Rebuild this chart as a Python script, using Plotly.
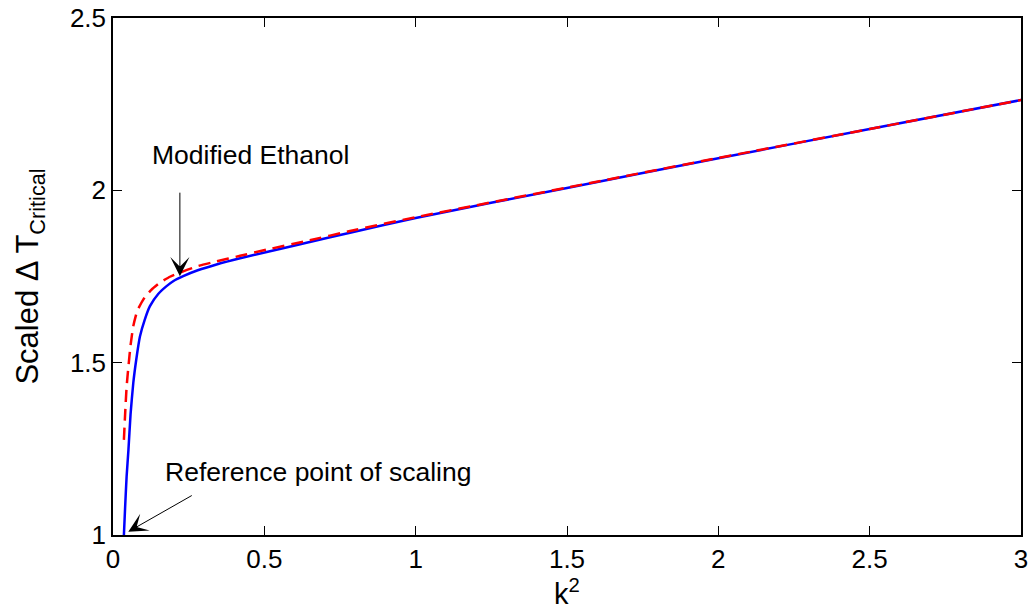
import plotly.graph_objects as go

# Solid blue curve (reference fluid)
k2_blue = [0.036, 0.040, 0.045, 0.051, 0.058, 0.067, 0.077, 0.089, 0.105, 0.122,
           0.150, 0.177, 0.200, 0.232, 0.280, 0.342, 0.420, 0.508, 0.650, 0.783,
           1.0, 1.5, 2.0, 2.5, 3.0]
dT_blue = [1.000, 1.080, 1.170, 1.247, 1.350, 1.441, 1.510, 1.576, 1.625, 1.664,
           1.700, 1.722, 1.737, 1.751, 1.768, 1.785, 1.803, 1.821, 1.850, 1.877,
           1.920, 2.007, 2.093, 2.178, 2.262]

# Dashed red curve (modified ethanol)
k2_red = [0.036, 0.040, 0.045, 0.051, 0.058, 0.067, 0.080, 0.100, 0.125, 0.155,
          0.190, 0.232, 0.280, 0.342, 0.420, 0.508, 0.650, 0.783, 1.0, 1.5,
          2.0, 2.5, 3.0]
dT_red = [1.276, 1.350, 1.430, 1.489, 1.550, 1.606, 1.650, 1.683, 1.710, 1.732,
          1.750, 1.765, 1.780, 1.794, 1.810, 1.828, 1.855, 1.882, 1.922, 2.008,
          2.094, 2.178, 2.262]

x_ticks = [0, 0.5, 1, 1.5, 2, 2.5, 3]
x_tick_labels = ["0", "0.5", "1", "1.5", "2", "2.5", "3"]
y_ticks = [1, 1.5, 2, 2.5]
y_tick_labels = ["1", "1.5", "2", "2.5"]

FONT = "Liberation Sans, Arial, sans-serif"

fig = go.Figure()
fig.add_trace(go.Scatter(x=k2_blue, y=dT_blue, mode="lines",
                         line=dict(color="#0000ff", width=2.5, shape="spline", smoothing=0.5),
                         showlegend=False))
fig.add_trace(go.Scatter(x=k2_red, y=dT_red, mode="lines",
                         line=dict(color="#ff0000", width=2.5, dash="12px,7px",
                                   shape="spline", smoothing=0.5),
                         showlegend=False))

axis_common = dict(showline=True, linecolor="black", linewidth=1.5, mirror="ticks",
                   ticks="inside", ticklen=9, tickwidth=1, tickcolor="black",
                   showgrid=False, zeroline=False, automargin=False,
                   tickfont=dict(family=FONT, size=26, color="black"))

fig.update_xaxes(range=[0, 3], tickvals=x_ticks, ticktext=x_tick_labels,
                 title=dict(text="k<sup>2</sup>", font=dict(family=FONT, size=29, color="black"),
                            standoff=2),
                 **axis_common)
fig.update_yaxes(range=[1, 2.5], tickvals=y_ticks, ticktext=y_tick_labels,
                 title=dict(text="Scaled \u0394 T<sub>Critical</sub>",
                            font=dict(family=FONT, size=31, color="black"), standoff=22),
                 **axis_common)

fig.add_annotation(x=0.221, y=1.751, ax=0, ay=-85, xref="x", yref="y",
                   showarrow=True, arrowhead=3, arrowsize=3.2, arrowwidth=1,
                   arrowcolor="black", text="")
fig.add_annotation(x=0.0505, y=1.0096, ax=65, ay=-37, xref="x", yref="y",
                   showarrow=True, arrowhead=3, arrowsize=3.2, arrowwidth=1,
                   arrowcolor="black", text="")
fig.add_annotation(x=0.122, y=2.102, xref="x", yref="y", showarrow=False,
                   text="Modified Ethanol", xanchor="left", yanchor="middle",
                   font=dict(family=FONT, size=26.5, color="black"))
fig.add_annotation(x=0.165, y=1.184, xref="x", yref="y", showarrow=False,
                   text="Reference point of scaling", xanchor="left", yanchor="middle",
                   font=dict(family=FONT, size=26.5, color="black"))

fig.update_layout(width=1032, height=611, plot_bgcolor="white", paper_bgcolor="white",
                  margin=dict(l=113, r=11, t=18, b=76))

fig.write_html("out.html")
